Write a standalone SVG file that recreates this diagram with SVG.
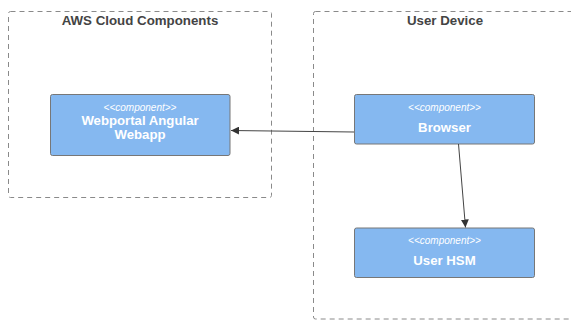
<svg xmlns="http://www.w3.org/2000/svg" width="571" height="320" viewBox="0 0 571 320">
<style>
.cluster{fill:none;stroke:#8a8a8a;stroke-width:1;stroke-dasharray:5,4}
.ctitle{font-family:"Liberation Sans",Arial,sans-serif;font-size:13.3px;font-weight:bold;fill:#444;text-anchor:middle}
.node{fill:#85b8f0;stroke:#777;stroke-width:1}
.stereo{font-family:"Liberation Sans",Arial,sans-serif;font-size:10px;font-style:italic;fill:#fff;text-anchor:middle}
.label{font-family:"Liberation Sans",Arial,sans-serif;font-size:13.2px;font-weight:bold;fill:#fff;text-anchor:middle}
.edge{fill:none;stroke:#444;stroke-width:1}
</style>
<defs>
<marker id="arrow" viewBox="0 0 10 10" refX="10" refY="5" markerWidth="8" markerHeight="8" orient="auto" markerUnits="userSpaceOnUse">
<path d="M0,0 L10,5 L0,10 z" fill="#333"/>
</marker>
</defs>
<g id="cluster-aws">
<rect class="cluster" x="8.5" y="11.5" width="263" height="186" rx="2"/>
<text class="ctitle" x="140" y="24.5">AWS Cloud Components</text>
</g>
<g id="cluster-user-device">
<rect class="cluster" x="313.5" y="11.5" width="264" height="307.5" rx="2"/>
<text class="ctitle" x="445" y="24.5">User Device</text>
</g>
<g id="node-webportal">
<rect class="node" x="50.5" y="94.5" width="179.5" height="61" rx="2"/>
<text class="stereo" x="140" y="111">&lt;&lt;component&gt;&gt;</text>
<text class="label" x="140" y="125">Webportal Angular</text>
<text class="label" x="140" y="139">Webapp</text>
</g>
<g id="node-browser">
<rect class="node" x="354.5" y="94.5" width="180" height="49.5" rx="2"/>
<text class="stereo" x="444.5" y="111">&lt;&lt;component&gt;&gt;</text>
<text class="label" x="444.5" y="132">Browser</text>
</g>
<g id="node-user-hsm">
<rect class="node" x="354.5" y="228" width="180" height="49.5" rx="2"/>
<text class="stereo" x="444.5" y="244">&lt;&lt;component&gt;&gt;</text>
<text class="label" x="444.5" y="265">User HSM</text>
</g>
<g id="connectors">
<path class="edge" d="M354,132 L231,130.5" marker-end="url(#arrow)"/>
<path class="edge" d="M458.5,144 L465.5,227.5" marker-end="url(#arrow)"/>
</g>
</svg>
